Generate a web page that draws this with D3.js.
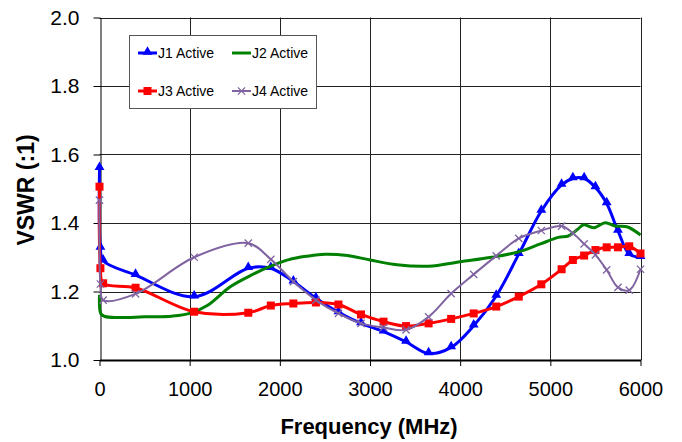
<!DOCTYPE html>
<html>
<head>
<meta charset="utf-8">
<script src="https://cdn.jsdelivr.net/npm/d3@7"></script>
<style>
  body { margin: 0; background: #fff; }
  text { font-family: "Liberation Sans", Arial, sans-serif; fill: #000; }
</style>
</head>
<body>
<svg id="chart" width="682" height="442"></svg>
<script>
// Data (frequency in MHz, VSWR)
const freqs = [0, 10, 40, 400, 1050, 1650, 1900, 2150, 2400, 2650, 2900, 3150, 3400, 3650,
  3900, 4150, 4400, 4650, 4900, 5125, 5250, 5375, 5500, 5625, 5750, 5875, 6000];
const j1 = [1.56, 1.327, 1.29, 1.248, 1.185, 1.268, 1.268, 1.229, 1.18, 1.139, 1.107, 1.083, 1.053, 1.019,
  1.037, 1.100, 1.187, 1.309, 1.435, 1.511, 1.530, 1.530, 1.504, 1.457, 1.377, 1.309, 1.300];
const j3 = [1.506, 1.268, 1.224, 1.211, 1.141, 1.138, 1.159, 1.165, 1.168, 1.162, 1.133, 1.112, 1.099, 1.107,
  1.120, 1.136, 1.156, 1.185, 1.221, 1.265, 1.292, 1.305, 1.321, 1.329, 1.329, 1.332, 1.311];
const j4 = [1.467, 1.222, 1.175, 1.193, 1.300, 1.341, 1.294, 1.229, 1.175, 1.136, 1.107, 1.095, 1.088, 1.126,
  1.194, 1.250, 1.304, 1.355, 1.378, 1.391, 1.370, 1.339, 1.307, 1.263, 1.212, 1.204, 1.265];
const j2Freqs = [0, 15, 60, 200, 500, 800, 1000, 1200, 1450, 1700, 1900, 2100, 2300, 2500, 2750, 3000,
  3300, 3650, 4000, 4350, 4650, 4890, 5090, 5200, 5300, 5370, 5480, 5610, 5720, 5850, 6000];
const j2 = [1.19, 1.135, 1.127, 1.124, 1.126, 1.128, 1.136, 1.16, 1.214, 1.25, 1.274, 1.293, 1.303, 1.309, 1.305, 1.292,
  1.278, 1.274, 1.287, 1.300, 1.316, 1.339, 1.358, 1.362, 1.381, 1.395, 1.386, 1.401, 1.391, 1.389, 1.365];
const xTicks = [0, 1000, 2000, 3000, 4000, 5000, 6000];
const yTicks = [1.0, 1.2, 1.4, 1.6, 1.8, 2.0];

const svg = d3.select("svg#chart");

// Scales
const x = d3.scaleLinear().domain([0, 6000]).range([99.5, 640.5]);
const y = d3.scaleLinear().domain([1, 2]).range([360, 17.5]);
const px = v => Math.round(v) + 0.5;

// Grid
svg.append("g").selectAll("line")
  .data(yTicks.slice(1))
  .join("line")
    .attr("x1", x(0)).attr("x2", x(6000))
    .attr("y1", d => px(y(d))).attr("y2", d => px(y(d)))
    .attr("stroke", "#222").attr("stroke-width", 1);

svg.append("g").selectAll("line")
  .data(xTicks.slice(1))
  .join("line")
    .attr("x1", d => px(x(d))).attr("x2", d => px(x(d)))
    .attr("y1", y(2)).attr("y2", y(1))
    .attr("stroke", "#222").attr("stroke-width", 1);

// Axes
const yAxis = svg.append("g")
  .attr("transform", "translate(" + px(x(0)) + ",0)")
  .call(d3.axisLeft(y).tickValues(yTicks).tickFormat(d3.format(".1f")).tickSize(7).tickSizeOuter(0).tickPadding(14));
yAxis.selectAll("text").style("font-size", "21px").attr("font-family", null);
yAxis.selectAll("line, path").attr("stroke", "#000");

const xAxis = svg.append("g")
  .attr("transform", "translate(0," + y(1) + ")")
  .call(d3.axisBottom(x).tickValues(xTicks).tickFormat(d3.format("d")).tickSize(6).tickSizeOuter(0).tickPadding(16));
xAxis.selectAll("text").style("font-size", "20px").attr("font-family", null);
xAxis.selectAll("line").attr("stroke", "#000");
xAxis.select("path").attr("stroke", "#000").attr("stroke-width", 2);

// Axis titles
svg.append("text")
  .attr("x", 369).attr("y", 434)
  .attr("text-anchor", "middle")
  .style("font-size", "22px").style("font-weight", "bold")
  .text("Frequency (MHz)");

svg.append("text")
  .attr("transform", "translate(34,190) rotate(-90)")
  .attr("text-anchor", "middle")
  .style("font-size", "23px").style("font-weight", "bold")
  .text("VSWR (:1)");

// Series
const series = [
  { name: "J1 Active", f: freqs, v: j1, color: "#0000ff", width: 3, marker: "tri" },
  { name: "J2 Active", f: j2Freqs, v: j2, color: "#008000", width: 3, marker: null },
  { name: "J3 Active", f: freqs, v: j3, color: "#ff0000", width: 3, marker: "sq" },
  { name: "J4 Active", f: freqs, v: j4, color: "#8064a2", width: 2, marker: "x" }
];

const line = d3.line()
  .x(d => x(d[0]))
  .y(d => y(d[1]))
  .curve(d3.curveCatmullRom.alpha(0.5));

function drawMarker(g, s, cx, cy) {
  if (s.marker === "tri") {
    g.append("path")
      .attr("d", d3.symbol(d3.symbolTriangle, 42)())
      .attr("transform", "translate(" + cx + "," + (cy - 1) + ")")
      .attr("fill", s.color);
  } else if (s.marker === "sq") {
    g.append("rect")
      .attr("x", cx - 4).attr("y", cy - 4)
      .attr("width", 8).attr("height", 8)
      .attr("fill", s.color);
  } else if (s.marker === "x") {
    g.append("path")
      .attr("d", d3.symbol(d3.symbolX, 36)())
      .attr("transform", "translate(" + cx + "," + cy + ")")
      .attr("fill", "none").attr("stroke", s.color).attr("stroke-width", 1.3);
  }
}

const plot = svg.append("g");
series.forEach(s => {
  const pts = s.f.map((f, i) => [f, s.v[i]]);
  plot.append("path")
    .attr("d", line(pts))
    .attr("fill", "none")
    .attr("stroke", s.color)
    .attr("stroke-width", s.width)
    .attr("stroke-linejoin", "round");
  if (s.marker) {
    const mg = plot.append("g");
    pts.forEach(p => drawMarker(mg, s, x(p[0]), y(p[1])));
  }
});

// Legend
const legend = svg.append("g");
legend.append("rect")
  .attr("x", 129.5).attr("y", 35.5)
  .attr("width", 187).attr("height", 73)
  .attr("fill", "#fff").attr("stroke", "#555").attr("stroke-width", 1);

const legendPos = [[138, 53], [232, 53], [138, 91], [232, 91]];
series.forEach((s, i) => {
  const [lx, ly] = legendPos[i];
  legend.append("line")
    .attr("x1", lx).attr("x2", lx + 19)
    .attr("y1", ly).attr("y2", ly)
    .attr("stroke", s.color).attr("stroke-width", s.width);
  drawMarker(legend, s, lx + 9.5, ly);
  legend.append("text")
    .attr("x", lx + 20).attr("y", ly + 5)
    .style("font-size", "14px")
    .text(s.name);
});
</script>
</body>
</html>
